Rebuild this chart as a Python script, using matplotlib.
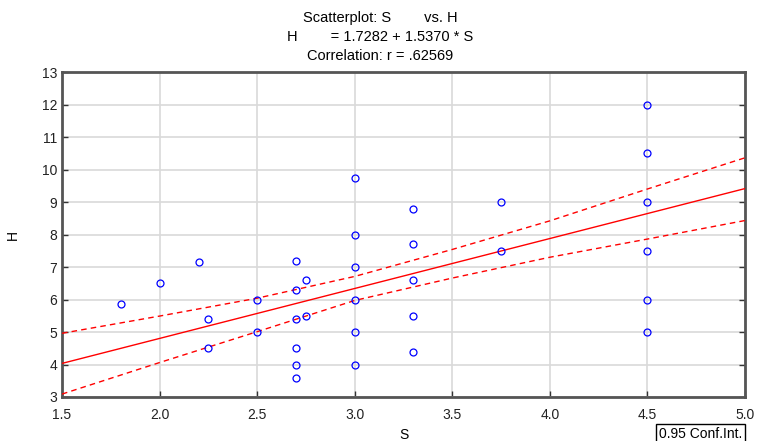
import numpy as np
import matplotlib.pyplot as plt

plt.rcParams['font.family'] = ['Liberation Sans', 'DejaVu Sans']

# data
S = [1.8, 2.0, 2.2, 2.25, 2.25, 2.5, 2.5, 2.7, 2.7, 2.7, 2.7, 2.7, 2.7,
     2.75, 2.75, 3.0, 3.0, 3.0, 3.0, 3.0, 3.0, 3.3, 3.3, 3.3, 3.3, 3.3,
     3.75, 3.75, 4.5, 4.5, 4.5, 4.5, 4.5, 4.5]
H = [5.85, 6.5, 7.15, 5.4, 4.5, 6.0, 5.0, 7.2, 6.3, 5.4, 4.5, 4.0, 3.6,
     6.6, 5.5, 9.75, 8.0, 7.0, 6.0, 5.0, 4.0, 8.8, 7.7, 6.6, 5.5, 4.4,
     9.0, 7.5, 12.0, 10.5, 9.0, 7.5, 6.0, 5.0]
intercept = 1.7282
slope = 1.5370
r_value = ".62569"

# 0.95 confidence band, read at the x tick positions
band_S = [1.5, 2.0, 2.5, 3.0, 3.5, 4.0, 4.5, 5.0]
band_upper = [4.96, 5.49, 6.04, 6.71, 7.54, 8.42, 9.40, 10.36]
band_lower = [3.09, 4.06, 5.01, 5.97, 6.66, 7.30, 7.86, 8.43]

x_ticks = [1.5, 2.0, 2.5, 3.0, 3.5, 4.0, 4.5, 5.0]
y_ticks = list(range(3, 14))

fig = plt.figure(figsize=(7.6, 4.41), dpi=100)
ax = fig.add_axes([62/760, 44/441, 683/760, 325/441])

ax.grid(True, color='#d9d9d9', linewidth=1.2)
ax.set_axisbelow(True)

fit_x = np.array([1.5, 5.0])
ax.plot(fit_x, intercept + slope * fit_x, color='red', linewidth=1, zorder=3)
ax.plot(band_S, band_upper, color='red', linewidth=1, linestyle=(0, (4, 3)), zorder=3)
ax.plot(band_S, band_lower, color='red', linewidth=1, linestyle=(0, (4, 3)), zorder=3)
ax.plot(S, H, 'o', markersize=5, markerfacecolor='none', markeredgecolor='blue',
        markeredgewidth=0.9, zorder=4)

ax.set_xlim(1.5, 5.0)
ax.set_ylim(3, 13)
ax.set_xticks(x_ticks)
ax.set_xticklabels([f"{t:.1f}" for t in x_ticks])
ax.set_yticks(y_ticks)
ax.tick_params(direction='in', length=4, width=1, color='#333333',
               labelsize=10, labelcolor='#222222', right=True)
ax.tick_params(axis='x', pad=8)
for sp in ax.spines.values():
    sp.set_color('#555555')
    sp.set_linewidth(2)

ax.set_xlabel("S", fontsize=10, labelpad=4)
ax.set_ylabel("H", fontsize=10)
ax.yaxis.set_label_coords(-0.062, 0.5)

fig.text(0.5, 1 - 18/441, "Scatterplot: S        vs. H", ha='center', va='center', fontsize=10.5)
fig.text(0.5, 1 - 37/441, "H        = %.4f + %.4f * S" % (intercept, slope),
         ha='center', va='center', fontsize=10.5)
fig.text(0.5, 1 - 56/441, "Correlation: r = " + r_value, ha='center', va='center', fontsize=10.5)

fig.text(659/760, 1 - 434/441, "0.95 Conf.Int.", ha='left', va='center', fontsize=10,
         bbox=dict(boxstyle='square,pad=0.2', facecolor='white', edgecolor='black', linewidth=1))

fig.savefig("out.png", dpi=100)
